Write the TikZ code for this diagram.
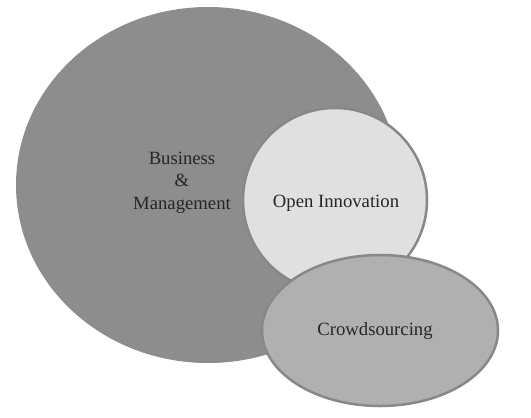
\documentclass[tikz,border=0pt]{standalone}
\usepackage{fontspec}
\setmainfont{Liberation Serif}
\usetikzlibrary{positioning,shapes.geometric}

\definecolor{bmgray}{RGB}{142,141,142}
\definecolor{oigray}{RGB}{224,224,224}
\definecolor{csgray}{RGB}{176,176,176}
\definecolor{rimgray}{RGB}{136,136,136}

\begin{document}
\begin{tikzpicture}[
    x=1pt, y=-1pt,
    area/.style={ellipse, inner sep=0pt},
    rimmed/.style={area, draw=rimgray, line width=2.5pt},
    lbl/.style={align=center, text=black!85, font=\fontsize{18.7}{22.5}\selectfont}
  ]
    \useasboundingbox (0,0) rectangle (531,418);

    %--- The three fields, back to front
    \node[area, fill=bmgray, minimum width=384, minimum height=356] (bm) at (208,185) {};
    \node[rimmed, fill=oigray, minimum width=184, minimum height=184] (oi) at (335,200) {};
    \node[rimmed, fill=csgray, minimum width=236, minimum height=151] (cs) at (380,330.5) {};

    %--- Labels
    \node[lbl] (bmlabel) at (182,182.5) {Business\\\&\\Management};
    \node[lbl] (oilabel) at (336,203) {Open Innovation};
    \node[lbl] (cslabel) at (375,331) {Crowdsourcing};
  \end{tikzpicture}
\end{document}
